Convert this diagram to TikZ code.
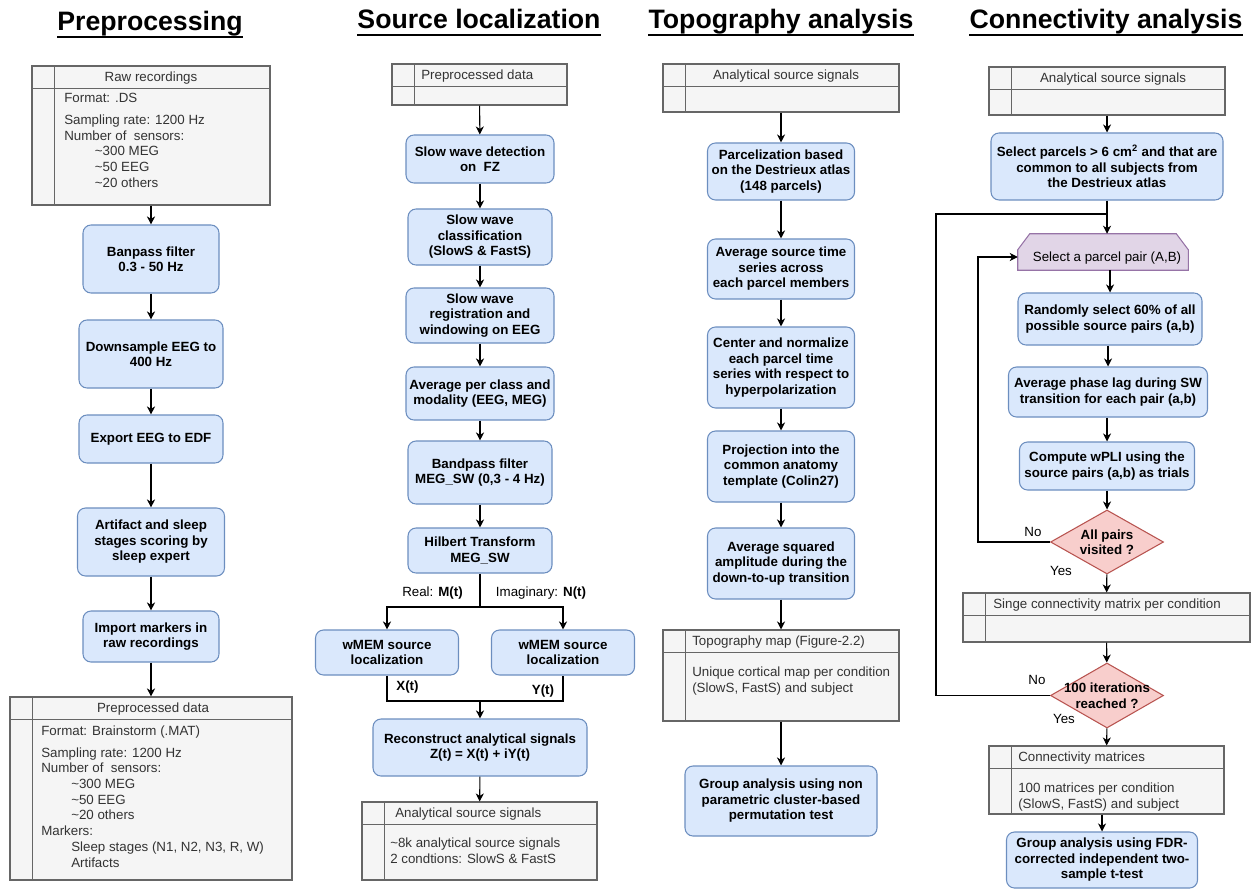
\documentclass[tikz,border=0pt]{standalone}
\usepackage{fontspec}
\setmainfont{Liberation Sans}
\usetikzlibrary{arrows.meta,shapes.geometric,fit}

\definecolor{boxfill}{HTML}{DAE8FC}
\definecolor{boxline}{HTML}{6C8EBF}
\definecolor{tblfill}{HTML}{F5F5F5}
\definecolor{tbldraw}{HTML}{666666}
\definecolor{tbltext}{HTML}{333333}
\definecolor{decfill}{HTML}{F8CECC}
\definecolor{decline}{HTML}{B85450}
\definecolor{loopfill}{HTML}{E1D5E7}
\definecolor{loopline}{HTML}{9673A6}

% table with a header row and a narrow left column
\newcommand{\datatable}[3]{
    \node (#1) [tbl, fit={(#2) (#3)}] {};
    \draw [tblrule] ([yshift=-17.25pt]#1.north west) -- ([yshift=-17.25pt]#1.north east);
    \draw [tblrule] ([xshift=17.25pt]#1.north west) -- ([xshift=17.25pt]#1.south west);
}

\begin{document}
\begin{tikzpicture}[x=0.75pt,y=-0.75pt,
    box/.style={draw=boxline,fill=boxfill,rounded corners=6pt,line width=0.8pt,align=center,inner sep=1pt,font=\fontsize{10}{11.6}\selectfont\bfseries},
    tbl/.style={draw=tbldraw,fill=tblfill,line width=0.8pt,inner sep=0pt},
    tblrule/.style={draw=tbldraw,line width=0.8pt},
    tbltxt/.style={inner sep=0pt,align=left,text=tbltext,font=\fontsize{10}{11.8}\selectfont},
    decision/.style={diamond,draw=decline,fill=decfill,line width=0.8pt,inner sep=0pt},
    dectxt/.style={inner sep=0pt,align=center,font=\fontsize{10}{11.6}\selectfont\bfseries},
    arr/.style={-{Stealth[length=6pt,width=6pt,inset=1.8pt]},line width=0.8pt},
    link/.style={line width=0.8pt},
    heading/.style={inner sep=0pt,font=\fontsize{20}{24}\selectfont\bfseries},
    lbl/.style={inner sep=0pt,font=\fontsize{10}{12}\selectfont}]

\useasboundingbox (0,0) rectangle (1255,891);

% headings

\node (hPre) [heading,anchor=base] at (150,31) {Preprocessing};
\node (hSrc) [heading,anchor=base] at (479,29) {Source localization};
\node (hTop) [heading,anchor=base] at (781,29) {Topography analysis};
\node (hCon) [heading,anchor=base] at (1106,29) {Connectivity analysis};
\foreach \h in {hPre,hSrc,hTop,hCon}
    \draw [line width=1.3pt] ([yshift=-4.5pt]\h.base west) -- ([yshift=-4.5pt]\h.base east);

% preprocessing

\datatable{raw}{32,66}{270,205}
\node (rawH) [tbltxt,anchor=mid] at (151,78) {Raw recordings};
\node (rawB) [tbltxt,anchor=north west] at (64,93) {Format: .DS\\[4.5pt]
    Sampling rate: 1200 Hz\\Number of\ \ sensors:\\
    \hspace*{23pt}\textasciitilde300 MEG\\
    \hspace*{23pt}\textasciitilde50 EEG\\
    \hspace*{23pt}\textasciitilde20 others};

\node (bp) [box,minimum width=102pt,minimum height=51pt] at (151,259) {Banpass filter\\0.3 - 50 Hz};
\node (ds) [box,minimum width=108pt,minimum height=51pt] at (151,354) {Downsample EEG to\\400 Hz};
\node (edf) [box,minimum width=108pt,minimum height=36pt] at (151,439) {Export EEG to EDF};
\node (art) [box,minimum width=110.25pt,minimum height=51pt] at (151,542) {Artifact and sleep\\stages scoring by\\sleep expert};
\node (imp) [box,minimum width=102pt,minimum height=38.25pt] at (151,636.5) {Import markers in\\raw recordings};

\datatable{pre}{10,697}{292,880}
\node (preH) [tbltxt,anchor=mid] at (153,709) {Preprocessed data};
\node (preB) [tbltxt,anchor=north west] at (41,726) {Format: Brainstorm (.MAT)\\[4pt]
    Sampling rate: 1200 Hz\\Number of\ \ sensors:\\
    \hspace*{22.5pt}\textasciitilde300 MEG\\
    \hspace*{22.5pt}\textasciitilde50 EEG\\
    \hspace*{22.5pt}\textasciitilde20 others\\
    Markers:\\
    \hspace*{22.5pt}Sleep stages (N1, N2, N3, R, W)\\
    \hspace*{22.5pt}Artifacts};

\draw [arr] (raw) -- (bp);
\draw [arr] (bp) -- (ds);
\draw [arr] (ds) -- (edf);
\draw [arr] (edf) -- (art);
\draw [arr] (art) -- (imp);
\draw [arr] (imp) -- (pre);

% source localization

\datatable{srcIn}{392,64}{567,105}
\node (srcInH) [tbltxt,anchor=mid west] at (421,76) {Preprocessed data};

\node (det) [box,minimum width=111pt,minimum height=36pt] at (480,159) {Slow wave detection\\on\ \ FZ};
\node (cls) [box,minimum width=108pt,minimum height=42pt] at (480,237) {Slow wave\\classification\\(SlowS \& FastS)};
\node (reg) [box,minimum width=111pt,minimum height=41.25pt] at (480,315.5) {Slow wave\\registration and\\windowing on EEG};
\node (avg) [box,minimum width=111pt,minimum height=39.75pt] at (480,393.5) {Average per class and\\modality (EEG, MEG)};
\node (bpf) [box,minimum width=108pt,minimum height=47.25pt] at (480,472.5) {Bandpass filter\\MEG\_SW (0,3 - 4 Hz)};
\node (hil) [box,minimum width=108pt,minimum height=33.75pt] at (480,550.5) {Hilbert Transform\\MEG\_SW};
\node (wl) [box,minimum width=107.25pt,minimum height=33.75pt] at (387,652.5) {wMEM source\\localization};
\node (wr) [box,minimum width=107.25pt,minimum height=33.75pt] at (563,652.5) {wMEM source\\localization};
\node (rec) [box,minimum width=160.5pt,minimum height=42.75pt] at (480,747.5) {Reconstruct analytical signals\\Z(t) = X(t) + iY(t)};

\datatable{srcOut}{362,802}{597,880}
\node (srcOutH) [tbltxt,anchor=mid west] at (395,813.5) {Analytical source signals};
\node (srcOutB) [tbltxt,anchor=north west] at (390,838) {\textasciitilde8k analytical source signals\\2 condtions: SlowS \& FastS};

\draw [arr] (srcIn) -- (det);
\draw [arr] (det) -- (cls);
\draw [arr] (cls) -- (reg);
\draw [arr] (reg) -- (avg);
\draw [arr] (avg) -- (bpf);
\draw [arr] (bpf) -- (hil);

\coordinate (split) at (480,607);
\coordinate (merge) at (480,701);
\draw [link] (hil.south) -- (split);
\draw [arr] (split) -| (wl.north);
\draw [arr] (split) -| (wr.north);
\draw [link] (wl.south) |- (merge) -| (wr.south);
\draw [arr] (merge) -- (rec.north);
\draw [arr] (rec) -- (srcOut);

\node (lblRe) [lbl] at (432.5,593) {Real: \textbf{M(t)}};
\node (lblIm) [lbl] at (541,593) {Imaginary: \textbf{N(t)}};
\node (lblX) [lbl,font=\fontsize{10}{12}\selectfont\bfseries] at (407.5,687) {X(t)};
\node (lblY) [lbl,font=\fontsize{10}{12}\selectfont\bfseries] at (543,691) {Y(t)};

% topography analysis

\datatable{topIn}{663,64}{899,112}
\node (topInH) [tbltxt,anchor=mid] at (786,76) {Analytical source signals};

\node (parc) [box,minimum width=110.25pt,minimum height=42.75pt] at (781,171.5) {Parcelization based\\on the Destrieux atlas\\(148 parcels)};
\node (avs) [box,minimum width=110.25pt,minimum height=45pt] at (781,269) {Average source time\\series across\\each parcel members};
\node (cen) [box,minimum width=110.25pt,minimum height=60.75pt] at (781,367.5) {Center and normalize\\each parcel time\\series with respect to\\hyperpolarization};
\node (proj) [box,minimum width=110.25pt,minimum height=53.25pt] at (781,466.5) {Projection into the\\common anatomy\\template (Colin27)};
\node (sq) [box,minimum width=110.25pt,minimum height=53.25pt] at (781,563.5) {Average squared\\amplitude during the\\down-to-up transition};

\datatable{topo}{663,630}{899,721}
\node (topoH) [tbltxt,anchor=mid west] at (692,641.5) {Topography map (Figure-2.2)};
\node (topoB) [tbltxt,anchor=north west] at (692,667) {Unique cortical map per condition\\(SlowS, FastS) and subject};

\node (grp) [box,minimum width=144pt,minimum height=52.5pt] at (781,801) {Group analysis using non\\parametric cluster-based\\permutation test};

\draw [arr] (topIn) -- (parc);
\draw [arr] (parc) -- (avs);
\draw [arr] (avs) -- (cen);
\draw [arr] (cen) -- (proj);
\draw [arr] (proj) -- (sq);
\draw [arr] (sq) -- (topo);
\draw [arr] (topo) -- (grp);

% connectivity analysis

\datatable{conIn}{989,67}{1225,115}
\node (conInH) [tbltxt,anchor=mid] at (1113,78.5) {Analytical source signals};

\node (sel) [box,minimum width=174pt,minimum height=50.25pt] at (1107,166.5) {Select parcels > 6 cm\textsuperscript{2} and that are\\common to all subjects from\\the Destrieux atlas};

\node (pair) [inner sep=0pt,minimum width=127.5pt,minimum height=27pt] at (1103,252) {};
\draw [draw=loopline,fill=loopfill,line width=0.8pt] (pair.south west) -- ([yshift=-12pt]pair.north west)
    -- ([xshift=9pt]pair.north west) -- ([xshift=-9pt]pair.north east)
    -- ([yshift=-12pt]pair.north east) -- (pair.south east) -- cycle;
\node (pairT) [lbl] at (1107,258) {Select a parcel pair (A,B)};

\node (rnd) [box,minimum width=138pt,minimum height=39pt] at (1110,319) {Randomly select 60\% of all\\possible source pairs (a,b)};
\node (aph) [box,minimum width=149.25pt,minimum height=37.5pt] at (1108,392) {Average phase lag during SW\\transition for each pair (a,b)};
\node (wpli) [box,minimum width=131.25pt,minimum height=36pt] at (1107,466) {Compute wPLI using the\\source pairs (a,b) as trials};

\node (dv) [decision,minimum width=84.75pt,minimum height=48pt] at (1107,542) {};
\node (dvT) [dectxt] at (1107,542) {All pairs\\visited ?};

\datatable{single}{963,593}{1250,642}
\node (singleH) [tbltxt,anchor=mid west] at (993,605) {Singe connectivity matrix per condition};

\node (dit) [decision,minimum width=84.75pt,minimum height=48.75pt] at (1107,695.5) {};
\node (ditT) [dectxt] at (1107,695.5) {100 iterations\\reached ?};

\datatable{mats}{989,746}{1224,814}
\node (matsH) [tbltxt,anchor=mid west] at (1018,757.5) {Connectivity matrices};
\node (matsB) [tbltxt,anchor=north west] at (1018,783) {100 matrices per condition\\(SlowS, FastS) and subject};

\node (grp2) [box,minimum width=143.25pt,minimum height=42pt] at (1102,860) {Group analysis using FDR-\\corrected independent two-\\sample t-test};

\coordinate (loopX) at (936,214);
\coordinate (join) at (1107,214);
\coordinate (backX) at (978,542);

\draw [arr] (conIn) -- (sel);
\draw [arr] (sel.south) -- (sel.south |- pair.north);
\draw [arr] (rnd.north |- pair.south) -- (rnd.north);
\draw [arr] (aph.north |- rnd.south) -- (aph.north);
\draw [arr] (wpli.north |- aph.south) -- (wpli.north);
\draw [arr] (wpli) -- (dv);
\draw [arr] (dv) -- (single);
\draw [arr] (single) -- (dit);
\draw [arr] (dit) -- (mats);
\draw [arr] (mats.south -| grp2.north) -- (grp2.north);

\draw [arr] (dv.west) -- (backX) |- ([yshift=-3.75pt]pair.west);
\draw [link] (dit.west) -| (loopX) -- (join);

\node (noA) [lbl] at (1033,532) {No};
\node (yesA) [lbl] at (1061,571) {Yes};
\node (noB) [lbl] at (1037,680) {No};
\node (yesB) [lbl] at (1064,719) {Yes};

\end{tikzpicture}
\end{document}
